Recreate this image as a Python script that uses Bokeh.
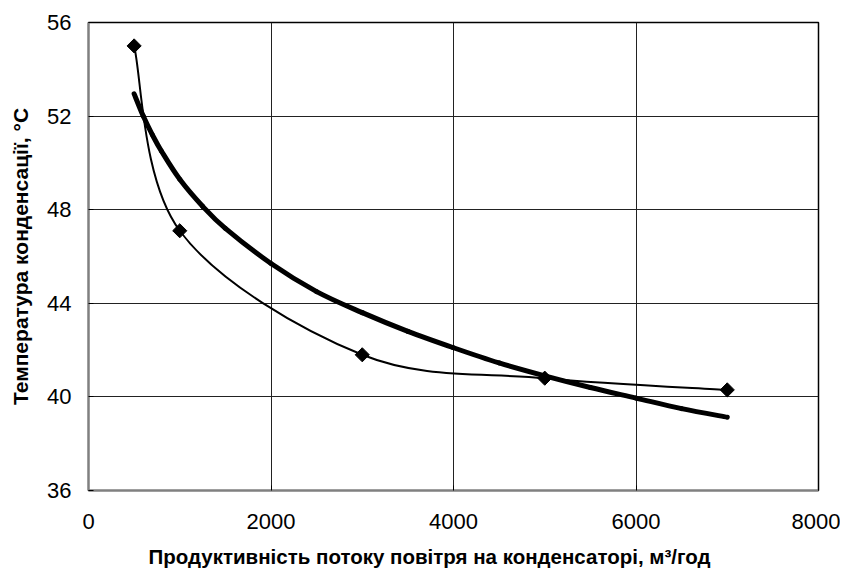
import numpy as np
from bokeh.plotting import figure
from bokeh.models import Range1d, FixedTicker, Title
from bokeh.embed import file_html
from bokeh.resources import INLINE

# Measured data (flow, m3/h -> condensing temperature, °C)
flow = [500, 1000, 3000, 5000, 7000]
temp = [55.0, 47.1, 41.8, 40.8, 40.3]

# Trend curve values
trend_flow = [500, 600, 700, 800, 1000, 1250, 1500, 2000, 2500, 3000,
              3500, 4000, 4500, 5000, 5500, 6000, 6500, 7000]
trend_temp = [52.95, 52.0, 51.2, 50.5, 49.3, 48.15, 47.2, 45.7, 44.5, 43.6,
              42.8, 42.1, 41.45, 40.9, 40.4, 39.95, 39.5, 39.13]

x_ticks = [0, 2000, 4000, 6000, 8000]
y_ticks = [36, 40, 44, 48, 52, 56]

x_title = "Продуктивність потоку повітря на конденсаторі, м³/год"
y_title = "Температура конденсації, °С"

FONT = "Liberation Sans"


def smooth_segments(xs, ys):
    """Catmull-Rom style Bezier control points (like a spreadsheet's smoothed line)."""
    xs = np.asarray(xs, float)
    ys = np.asarray(ys, float)
    n = len(xs)
    px = np.concatenate([[xs[0]], xs, [xs[-1]]])
    py = np.concatenate([[ys[0]], ys, [ys[-1]]])
    d = dict(x0=[], y0=[], x1=[], y1=[], cx0=[], cy0=[], cx1=[], cy1=[])
    for i in range(n - 1):
        j = i + 1
        d["x0"].append(px[j]); d["y0"].append(py[j])
        d["x1"].append(px[j + 1]); d["y1"].append(py[j + 1])
        d["cx0"].append(px[j] + (px[j + 1] - px[j - 1]) / 6)
        d["cy0"].append(py[j] + (py[j + 1] - py[j - 1]) / 6)
        d["cx1"].append(px[j + 1] - (px[j + 2] - px[j]) / 6)
        d["cy1"].append(py[j + 1] - (py[j + 2] - py[j]) / 6)
    return d


p = figure(width=840, height=579, output_backend="svg", toolbar_location=None,
           x_range=Range1d(0, 8000), y_range=Range1d(36, 56),
           min_border_left=88, min_border_right=22, min_border_top=22,
           min_border_bottom=89)

p.background_fill_color = "white"
p.border_fill_color = "white"
p.outline_line_color = "black"
p.outline_line_width = 1.5

# Thick trend curve
p.bezier(line_color="black", line_width=5, line_cap="round",
         **smooth_segments(trend_flow, trend_temp))
# Thin smoothed data line
p.bezier(line_color="black", line_width=2,
         **smooth_segments(flow, temp))
# Data markers (diamonds)
p.scatter(flow, temp, marker="square", angle=np.pi / 4, size=10,
          fill_color="black", line_color="black")

p.xaxis.ticker = FixedTicker(ticks=x_ticks)
p.yaxis.ticker = FixedTicker(ticks=y_ticks)
for ax in (p.xaxis[0], p.yaxis[0]):
    ax.axis_line_color = "#808080"
    ax.axis_line_width = 2
    ax.major_tick_in = 5
    ax.major_tick_out = 0
    ax.major_tick_line_color = "black"
    ax.minor_tick_line_color = None
    ax.major_label_text_font = FONT
    ax.major_label_text_font_size = "22px"
    ax.major_label_text_color = "black"
    ax.axis_label_text_font = FONT
    ax.axis_label_text_font_size = "21px"
    ax.axis_label_text_font_style = "bold"
    ax.axis_label_text_color = "black"

p.yaxis.axis_label = y_title
p.xaxis.major_label_standoff = 23
p.yaxis.major_label_standoff = 17
p.yaxis.axis_label_standoff = 12

# X-axis title, placed under the chart as in the original
p.add_layout(Title(text=x_title, align="left", offset=60, standoff=22,
                   text_line_height=0.8,
                   text_font=FONT, text_font_size="20.5px",
                   text_font_style="bold", text_color="black"), "below")

p.xgrid.grid_line_color = "#222222"
p.ygrid.grid_line_color = "#222222"
p.xgrid.grid_line_width = 1
p.ygrid.grid_line_width = 1

open("out.html", "w").write(file_html(p, INLINE))
